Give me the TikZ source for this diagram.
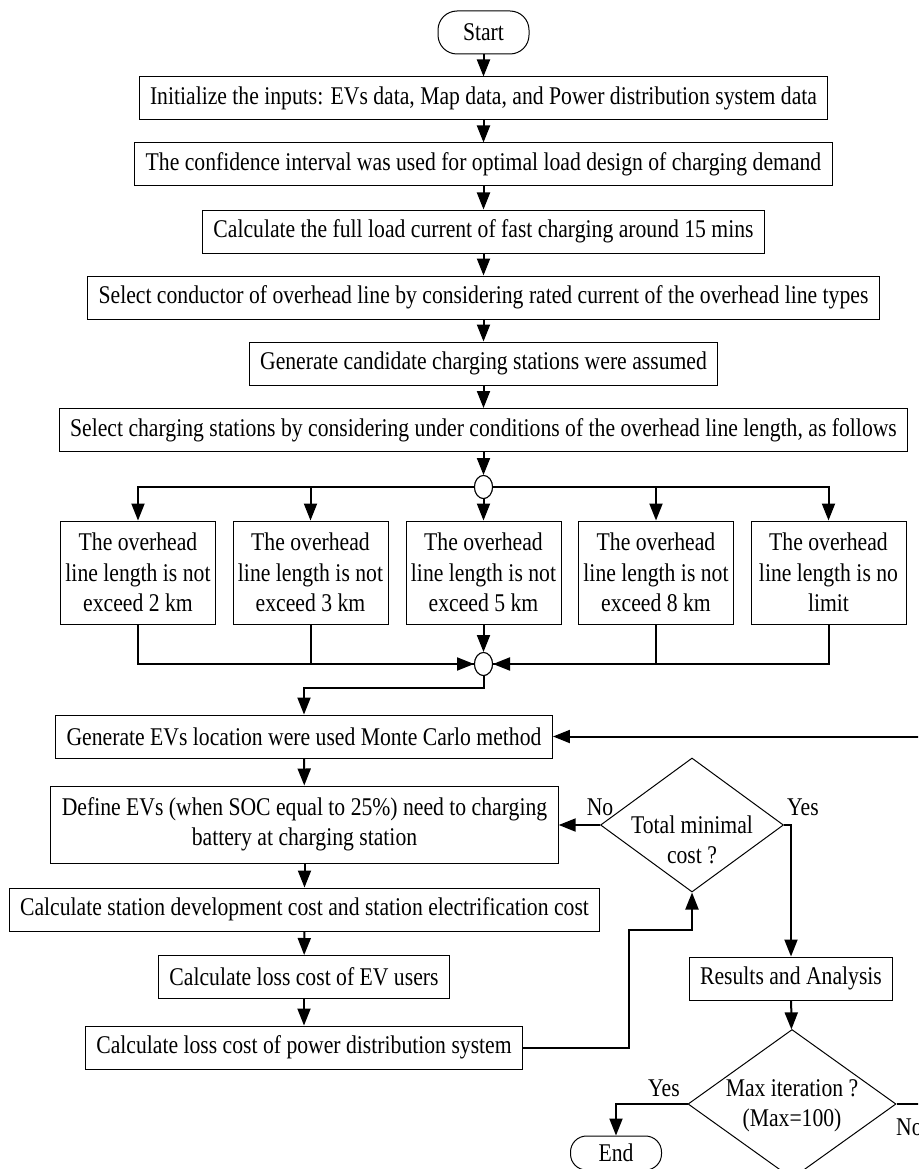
\documentclass[tikz,border=0pt]{standalone}
\usepackage{fontspec}
\setmainfont{Liberation Serif}[FakeStretch=0.85]
\usetikzlibrary{arrows.meta,shapes.geometric,calc}
\tikzset{
  every node/.style={font=\fontsize{25.5}{30.5}\selectfont},
  box/.style={draw, line width=1pt, minimum height=43, inner xsep=11, inner ysep=0, align=center},
  fbox/.style={box, minimum width=155, minimum height=103, inner xsep=2},
  term/.style={draw, line width=1pt, rounded corners=19, minimum width=91, minimum height=43, inner sep=0},
  junc/.style={draw, line width=1pt, ellipse, minimum width=18, minimum height=23, inner sep=0, fill=white},
  dia/.style={draw, line width=1pt, diamond, inner sep=0},
  conn/.style={line width=2pt},
  arr/.style={conn, -{Triangle[length=17,width=13]}},
  lbl/.style={inner sep=0}
}
\begin{document}
\begin{tikzpicture}[x=1pt,y=-1pt]
\useasboundingbox (0,0) rectangle (918,1169);
\clip (0,0) rectangle (918,1169);
% top chain
\node[term] (start) at (483.5,32.5) {Start};
\node[box] (b1) at (483.5,98.5) {Initialize the inputs: EVs data, Map data, and Power distribution system data};
\node[box] (b2) at (483.5,164.5) {The confidence interval was used for optimal load design of charging demand};
\node[box] (b3) at (483.5,231.5) {Calculate the full load current of fast charging around 15 mins};
\node[box] (b4) at (483.5,297.5) {Select conductor of overhead line by considering rated current of the overhead line types};
\node[box] (b5) at (483.5,363.5) {Generate candidate charging stations were assumed};
\node[box] (sel) at (483.5,430) {Select charging stations by considering under conditions of the overhead line length, as follows};
\node[junc] (c1) at (483.5,487) {};
% five boxes
\node[fbox] (f1) at (138,572.5) {The overhead\\line length is not\\exceed 2 km};
\node[fbox] (f2) at (310.5,572.5) {The overhead\\line length is not\\exceed 3 km};
\node[fbox] (f3) at (483.5,572.5) {The overhead\\line length is not\\exceed 5 km};
\node[fbox] (f4) at (656,572.5) {The overhead\\line length is not\\exceed 8 km};
\node[fbox] (f5) at (828.5,572.5) {The overhead\\line length is no\\limit};
\node[junc] (c2) at (483.5,664) {};
% left column
\node[box] (mc) at (304,736.5) {Generate EVs location were used Monte Carlo method};
\node[box, minimum height=77] (def) at (304.5,824.5) {Define EVs (when SOC equal to 25\%) need to charging\\battery at charging station};
\node[box] (dev) at (304.5,909.5) {Calculate station development cost and station electrification cost};
\node[box] (lev) at (304,977) {Calculate loss cost of EV users};
\node[box] (pow) at (304,1047.5) {Calculate loss cost of power distribution system};
% right column
\node[dia, minimum width=183, minimum height=134] (d1) at (692,825) {};
\node[align=center, lbl] (d1t) at (692,840) {Total minimal\\cost ?};
\node[box] (res) at (791,978.5) {Results and Analysis};
\node[dia, minimum width=208, minimum height=149] (d2) at (792,1104) {};
\node[align=center, lbl] (d2t) at (792,1106) {Max iteration ?\\(Max=100)};
\node[term, minimum height=34, rounded corners=16] (end) at (616,1153) {End};
% labels
\node[lbl] (no1) at (600,807) {No};
\node[lbl] (yes1) at (803,807) {Yes};
\node[lbl] (yes2) at (664,1088) {Yes};
\node[lbl, anchor=west] (no2) at (896,1127) {No};
\coordinate (k1) at (629,930);
\coordinate (k2) at (930,1104);
% connectors
\draw[arr] (start) -- (b1);
\draw[arr] (b1) -- (b2);
\draw[arr] (b2) -- (b3);
\draw[arr] (b3) -- (b4);
\draw[arr] (b4) -- (b5);
\draw[arr] (b5) -- (sel);
\draw[arr] (sel) -- (c1);
\draw[arr] (c1.west) -| (f1.north);
\draw[arr] (c1.west) -| (f2.north);
\draw[arr] (c1.east) -| (f4.north);
\draw[arr] (c1.east) -| (f5.north);
\draw[arr] (c1.south) -- (f3.north);
\draw[arr] (f1.south) |- (c2.west);
\draw[conn] (f2.south) |- (c2.west);
\draw[arr] (f3.south) -- (c2.north);
\draw[conn] (f4.south) |- (c2.east);
\draw[arr] (f5.south) |- (c2.east);
\draw[arr] (c2.south) -- ++(0,11.5) -| (mc.north);
\draw[arr] (mc) -- (def);
\draw[arr] (def) -- (dev);
\draw[arr] (dev) -- (lev);
\draw[arr] (lev) -- (pow);
\draw[arr] (pow.east) -| (k1) -| (d1.south);
\draw[arr] (d1.west) -- (d1.west -| def.east);
\draw[arr] (d1.east) -| (res.north);
\draw[arr] (res) -- (d2);
\draw[arr] (d2.west) -| (end.north);
\draw[arr] (d2.east) -- (k2) |- (mc.east);
\node[junc] at (c1) {};
\node[junc] at (c2) {};
\end{tikzpicture}
\end{document}
